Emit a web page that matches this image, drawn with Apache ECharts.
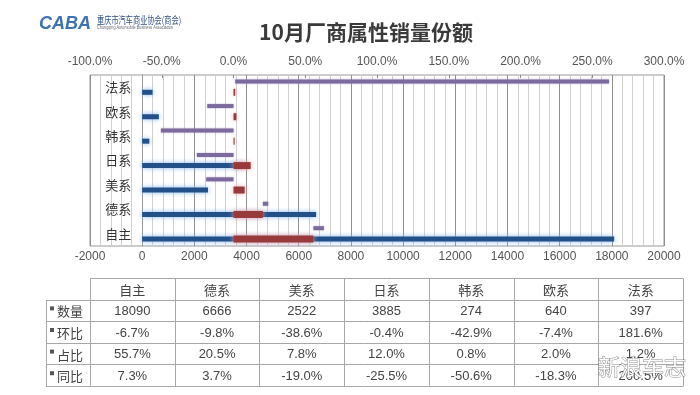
<!DOCTYPE html>
<html><head><meta charset="utf-8">
<script src="https://cdn.jsdelivr.net/npm/echarts@6/dist/echarts.min.js"></script>
<style>html,body{margin:0;padding:0;background:#fff}#c{width:700px;height:395px}</style>
</head><body><div id="c"></div>
<script>
// ---- data ----
const categories = ['自主', '德系', '美系', '日系', '韩系', '欧系', '法系'];
const volume = [18090, 6666, 2522, 3885, 274, 640, 397];      // 数量
const mom = [-6.7, -9.8, -38.6, -0.4, -42.9, -7.4, 181.6];      // 环比 (%)
const share = [55.7, 20.5, 7.8, 12.0, 0.8, 2.0, 1.2];           // 占比 (%)
const yoy = [7.3, 3.7, -19.0, -25.5, -50.6, -18.3, 260.5];      // 同比 (%)
const rowNames = ['数量', '环比', '占比', '同比'];
const volAxis = { min: -2000, max: 20000, interval: 2000 };
const pctAxis = { min: -100, max: 300, interval: 50 };

const CJK = '"Noto Sans CJK SC", sans-serif';
const NUM = '"Liberation Sans", "Noto Sans CJK SC", sans-serif';
const fmtPct = v => v.toFixed(1) + '%';

const GRID = { left: 90, right: 36, top: 75, bottom: 149 };
const plotW = 700 - GRID.left - GRID.right;
// category axis sits at value 0 of the count axis
const yAxisOffset = -(0 - volAxis.min) / (volAxis.max - volAxis.min) * plotW;

// ---- table (graphic) ----
const tableRows = [volume.map(String), mom.map(fmtPct), share.map(fmtPct), yoy.map(fmtPct)];
const T = { left: 46, keyRight: 90, right: 683, top: 278, rowH: 21.6 };
const colW = (T.right - T.keyRight) / categories.length;
const nRows = 1 + rowNames.length;
const tBottom = T.top + nRows * T.rowH;
const ls = { stroke: '#a8a8a8', lineWidth: 1 };
const g = [];
for (let r = 0; r <= nRows; r++) {
  const y = Math.round(T.top + r * T.rowH) + 0.5;
  g.push({ type: 'line', silent: true, shape: { x1: r === 0 ? T.keyRight : T.left, y1: y, x2: T.right, y2: y }, style: ls });
}
g.push({ type: 'line', silent: true, shape: { x1: T.left + 0.5, y1: Math.round(T.top + T.rowH) + 0.5, x2: T.left + 0.5, y2: Math.round(tBottom) + 0.5 }, style: ls });
for (let c = 0; c <= categories.length; c++) {
  const x = Math.round(T.keyRight + c * colW) + 0.5;
  g.push({ type: 'line', silent: true, shape: { x1: x, y1: T.top + 0.5, x2: x, y2: Math.round(tBottom) + 0.5 }, style: ls });
}
categories.forEach((c, i) => g.push({ type: 'text', silent: true, x: T.keyRight + (i + 0.5) * colW, y: T.top + T.rowH / 2 + 1,
  style: { text: c, font: '13px ' + CJK, fill: '#444', align: 'center', verticalAlign: 'middle' } }));
rowNames.forEach((n, r) => {
  const cy = T.top + (r + 1.5) * T.rowH;
  g.push({ type: 'rect', silent: true, shape: { x: 50, y: cy - 4, width: 4, height: 4 }, style: { fill: '#555' } });
  g.push({ type: 'text', silent: true, x: 57, y: cy + 1, style: { text: n, font: '13px ' + CJK, fill: '#444', align: 'left', verticalAlign: 'middle' } });
  tableRows[r].forEach((v, i) => g.push({ type: 'text', silent: true, x: T.keyRight + (i + 0.5) * colW, y: cy + 1,
    style: { text: v, font: '13px ' + NUM, fill: '#444', align: 'center', verticalAlign: 'middle' } }));
});
// logo + title
g.push({ type: 'text', silent: true, x: 39, y: 24, scaleX: 0.95, style: { text: 'CABA', font: 'italic bold 19px "Liberation Sans"', fill: '#3f72b5', align: 'left', verticalAlign: 'middle' } });
g.push({ type: 'text', silent: true, x: 97, y: 20, scaleX: 0.72, style: { text: '重庆市汽车商业协会(商会)', font: '10px ' + CJK, fill: '#2e4f80', align: 'left', verticalAlign: 'middle' } });
g.push({ type: 'text', silent: true, x: 97, y: 28, scaleX: 0.85, style: { text: 'Chongqing Automobile Business Association', font: '4.5px "Liberation Sans"', fill: '#667', align: 'left', verticalAlign: 'middle' } });
g.push({ type: 'text', silent: true, x: 366, y: 32, style: { text: '10月厂商属性销量份额', font: 'bold 21px ' + CJK, fill: '#3a3a3a', align: 'center', verticalAlign: 'middle' } });
// watermark
g.push({ type: 'text', silent: true, x: 642, y: 367, z: 100, style: { text: '新浪车志', font: '22px ' + CJK, fill: 'rgba(255,255,255,0.95)', stroke: 'rgba(110,110,110,0.8)', lineWidth: 1, align: 'center', verticalAlign: 'middle' } });

const chart = echarts.init(document.getElementById('c'));
chart.setOption({
  animation: false,
  backgroundColor: '#fff',
  grid: { left: GRID.left, right: GRID.right, top: GRID.top, bottom: GRID.bottom, show: true, borderColor: '#999', borderWidth: 1, containLabel: false, outerBoundsMode: 'none' },
  xAxis: [
    { type: 'value', position: 'bottom', min: volAxis.min, max: volAxis.max, interval: volAxis.interval,
      axisLine: { show: false, onZero: false }, axisTick: { show: false },
      axisLabel: { color: '#555', fontSize: 12, margin: 5, fontFamily: NUM, showMinLabel: true, showMaxLabel: true, formatter: v => String(v) },
      splitLine: { show: true, lineStyle: { color: '#8f8f8f', width: 1 } },
      minorTick: { show: false, splitNumber: 5 },
      minorSplitLine: { show: true, lineStyle: { color: '#d0d0d0', width: 1 } } },
    { type: 'value', position: 'top', min: pctAxis.min, max: pctAxis.max, interval: pctAxis.interval,
      axisLine: { show: false, onZero: false }, axisTick: { show: true, inside: true, length: 3, lineStyle: { color: '#888' } },
      axisLabel: { color: '#555', fontSize: 12, margin: 7, fontFamily: NUM, formatter: v => v.toFixed(1) + '%', showMinLabel: true, showMaxLabel: true },
      splitLine: { show: false } }
  ],
  yAxis: [
    { type: 'category', data: categories, position: 'left', offset: yAxisOffset,
      axisLine: { show: true, onZero: false, lineStyle: { color: '#999' } },
      axisTick: { show: false },
      axisLabel: { color: '#333', fontSize: 13, margin: 11, fontFamily: CJK },
      splitLine: { show: false } },
    { type: 'category', data: categories, position: 'left', show: false,
      axisLine: { onZero: false } }
  ],
  series: [
    { name: 'base', type: 'bar', stack: 'tb', xAxisIndex: 1, yAxisIndex: 0, data: share, barWidth: 4, barGap: '155%',
      itemStyle: { color: 'rgba(0,0,0,0)' }, silent: true },
    { name: '同比', type: 'bar', stack: 'tb', xAxisIndex: 1, yAxisIndex: 0, data: yoy, barWidth: 4, barGap: '155%',
      itemStyle: { color: '#7d6a9c', shadowBlur: 2, shadowColor: 'rgba(160,140,190,0.7)' } },
    { name: '数量', type: 'bar', xAxisIndex: 0, yAxisIndex: 0, data: volume, barWidth: 5, barGap: '155%',
      itemStyle: { color: '#24508a', shadowBlur: 5, shadowColor: 'rgba(130,180,235,1)' } },
    { name: 'slot', type: 'bar', xAxisIndex: 1, yAxisIndex: 1, data: [], barWidth: 4, barGap: '155%' },
    { name: '占比', type: 'bar', xAxisIndex: 1, yAxisIndex: 1, data: share, barWidth: 7, barGap: '155%',
      itemStyle: { color: '#983a3c', shadowBlur: 5, shadowColor: 'rgba(235,165,170,1)' } }
  ],
  graphic: g
});
</script></body></html>
